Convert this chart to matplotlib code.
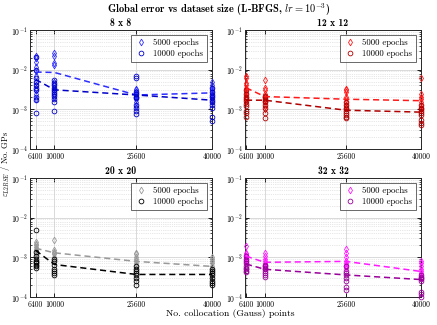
import numpy as np
import matplotlib
matplotlib.use("Agg")
import matplotlib.pyplot as plt
from matplotlib.lines import Line2D
from matplotlib.ticker import LogLocator, NullFormatter

plt.rcParams['font.family'] = ['cmr10']
plt.rcParams['mathtext.fontset'] = 'cm'
plt.rcParams['axes.formatter.use_mathtext'] = True

# collocation points
n_points = [6400, 10000, 25600, 40000]

# per-panel data: list of scattered errors at each n_points value
titles = ['8 x 8', '12 x 12', '20 x 20', '32 x 32']

err5000 = [
    [  # 8 x 8
        [2.2e-2, 2.0e-2, 1.6e-2, 1.2e-2, 9e-3, 7e-3, 5e-3, 4e-3, 3e-3, 2.5e-3, 1.8e-3],
        [2.7e-2, 2.2e-2, 1.5e-2, 1.3e-2, 5e-3, 4e-3, 3.5e-3, 3e-3, 2.5e-3, 2e-3],
        [3.2e-3, 3e-3, 2.7e-3, 2.5e-3, 2.3e-3, 2.2e-3, 2e-3, 1.8e-3, 1.5e-3, 1.2e-3],
        [5e-3, 4.2e-3, 3.5e-3, 3e-3, 2.7e-3, 2.4e-3, 2.2e-3, 2e-3, 1.8e-3, 1.5e-3],
    ],
    [  # 12 x 12
        [7e-3, 6e-3, 4.5e-3, 4e-3, 3.5e-3, 3e-3, 2.7e-3, 2.4e-3, 2e-3, 1.8e-3, 1.5e-3],
        [5.5e-3, 3.5e-3, 3e-3, 2.5e-3, 2e-3, 1.8e-3, 1.6e-3, 1.2e-3, 1e-3],
        [3.3e-3, 3e-3, 2.8e-3, 2e-3, 1.8e-3, 1.5e-3, 1.3e-3, 1.2e-3],
        [6e-3, 2.5e-3, 2e-3, 1.8e-3, 1.5e-3, 1.3e-3, 1.1e-3, 1e-3],
    ],
    [  # 20 x 20
        [2.5e-3, 2.2e-3, 2e-3, 1.8e-3, 1.6e-3, 1.5e-3, 1.3e-3, 1.2e-3, 1e-3],
        [2.8e-3, 1.5e-3, 1.4e-3, 1.3e-3, 1.2e-3, 1e-3, 8e-4],
        [1.3e-3, 1.2e-3, 1e-3, 9e-4, 8e-4, 7e-4, 6e-4, 5e-4],
        [1e-3, 9e-4, 8e-4, 7e-4, 6e-4, 5e-4, 4.5e-4],
    ],
    [  # 32 x 32
        [1.9e-3, 1.3e-3, 1.2e-3, 1.1e-3, 1e-3, 9e-4, 8e-4, 7e-4],
        [1.3e-3, 1.1e-3, 9e-4, 8e-4, 7e-4, 6.5e-4, 6e-4, 5.5e-4],
        [1.6e-3, 1.3e-3, 1e-3, 8e-4, 7e-4, 6.5e-4, 6e-4, 5.5e-4],
        [8e-4, 7e-4, 6e-4, 5e-4, 4.5e-4, 4e-4, 3.5e-4, 3e-4],
    ],
]

err10000 = [
    [  # 8 x 8
        [2.1e-2, 1.0e-2, 6e-3, 5e-3, 4e-3, 3.5e-3, 3e-3, 2e-3, 1.7e-3, 0.8e-3],
        [5.5e-3, 4.5e-3, 4e-3, 3.5e-3, 3e-3, 2.8e-3, 2.5e-3, 2.2e-3, 1.8e-3, 1.5e-3, 0.9e-3],
        [6.8e-3, 6.2e-3, 2.8e-3, 2.4e-3, 2.1e-3, 1.9e-3, 1.3e-3, 1.1e-3, 0.9e-3, 0.75e-3],
        [3.5e-3, 2.8e-3, 2.3e-3, 2e-3, 1.7e-3, 1.5e-3, 1.3e-3, 1.1e-3, 0.65e-3, 0.5e-3],
    ],
    [  # 12 x 12
        [3e-3, 2.5e-3, 2e-3, 1.8e-3, 1.6e-3, 1.4e-3, 1.2e-3, 0.9e-3, 0.8e-3, 0.65e-3],
        [2.2e-3, 2e-3, 1.8e-3, 1.6e-3, 1.5e-3, 1.3e-3, 1.1e-3, 0.8e-3, 0.6e-3],
        [1.5e-3, 1.3e-3, 1.1e-3, 1e-3, 0.9e-3, 0.8e-3, 0.7e-3, 0.65e-3, 0.6e-3],
        [1.3e-3, 1.1e-3, 1e-3, 0.9e-3, 0.8e-3, 0.7e-3, 0.55e-3, 0.45e-3, 0.4e-3],
    ],
    [  # 20 x 20
        [5e-3, 1.4e-3, 1.1e-3, 9e-4, 8e-4, 7.5e-4, 7e-4, 6.5e-4, 6e-4, 5.5e-4],
        [9e-4, 8e-4, 6.5e-4, 5e-4, 4.5e-4, 4e-4, 3.5e-4],
        [6e-4, 5e-4, 4.5e-4, 4e-4, 3.5e-4, 3e-4, 2.5e-4, 2e-4],
        [5e-4, 4.5e-4, 4e-4, 3.5e-4, 3e-4, 2.5e-4, 2.2e-4, 2e-4],
    ],
    [  # 32 x 32
        [1.1e-3, 9e-4, 8e-4, 7e-4, 6e-4, 5.5e-4, 5e-4, 4.5e-4, 4.2e-4],
        [6.5e-4, 6e-4, 5.5e-4, 5e-4, 4.5e-4, 4e-4, 3.5e-4, 3.2e-4],
        [6e-4, 4.5e-4, 4e-4, 3.5e-4, 3e-4, 2.5e-4, 1.8e-4, 1.5e-4],
        [3.5e-4, 3.2e-4, 3e-4, 2.8e-4, 2.5e-4, 1.3e-4, 1.2e-4, 1e-4],
    ],
]

# average curves (dashed)
avg5000 = [
    [8.7e-3, 8.5e-3, 2.3e-3, 2.6e-3],
    [3.5e-3, 2.1e-3, 1.8e-3, 1.65e-3],
    [1.7e-3, 1.3e-3, 7.9e-4, 5.9e-4],
    [1.07e-3, 7.5e-4, 7.9e-4, 4.4e-4],
]
avg10000 = [
    [5.7e-3, 3.1e-3, 2.3e-3, 1.7e-3],
    [1.7e-3, 1.7e-3, 9.5e-4, 8.5e-4],
    [1.5e-3, 6.6e-4, 3.7e-4, 3.7e-4],
    [6.8e-4, 5e-4, 3.6e-4, 2.75e-4],
]

col5000 = ['#2e2eff', '#ff1a1a', '#999999', '#ff1aff']
col10000 = ['#0000c8', '#b00000', '#000000', '#9a009a']

fig = plt.figure(figsize=(4.37, 3.25), dpi=100)
W, H = 437.0, 325.0
boxes = [(30, 30, 212, 149), (245, 30, 421, 149),
         (30, 178, 212, 297), (245, 178, 421, 297)]
xleft = [5350, 6213, 5350, 6213]
ms = 3.4

for i in range(4):
    x0, y0, x1, y1 = boxes[i]
    ax = fig.add_axes([x0 / W, 1 - y1 / H, (x1 - x0) / W, (y1 - y0) / H])
    ax.set_yscale('log')
    ax.set_ylim(1e-4, 1e-1)
    ax.set_xlim(xleft[i], 40000)

    for j, xv in enumerate(n_points):
        v = err5000[i][j]
        ax.plot([xv] * len(v), v, linestyle='none', marker='d', ms=ms,
                mfc='none', mec=col5000[i], mew=0.6, clip_on=False, zorder=3)
        v = err10000[i][j]
        ax.plot([xv] * len(v), v, linestyle='none', marker='o', ms=ms,
                mfc='none', mec=col10000[i], mew=0.6, clip_on=False, zorder=3)
    ax.plot(n_points, avg5000[i], '--', color=col5000[i], lw=1.1,
            dashes=(4, 2.5), zorder=4)
    ax.plot(n_points, avg10000[i], '--', color=col10000[i], lw=1.1,
            dashes=(4, 2.5), zorder=4)

    ax.set_xticks(n_points)
    ax.set_xticklabels([str(n) for n in n_points])
    ax.yaxis.set_major_locator(LogLocator(base=10, numticks=10))
    ax.yaxis.set_minor_locator(LogLocator(base=10, subs=np.arange(2, 10), numticks=20))
    ax.yaxis.set_minor_formatter(NullFormatter())
    ax.tick_params(which='both', direction='in', top=True, right=True)
    ax.tick_params(axis='x', labelsize=5.6, pad=2.6)
    ax.tick_params(axis='y', labelsize=5.6, pad=1.5)
    ax.tick_params(which='major', length=3, width=0.6)
    ax.tick_params(which='minor', length=1.5, width=0.5)
    ax.grid(True, which='major', color='#d9d9d9', lw=0.7)
    ax.grid(True, which='minor', axis='y', color='#d0d0d0', lw=0.5, ls=':')
    ax.set_axisbelow(True)
    for s in ax.spines.values():
        s.set_linewidth(0.7)
        s.set_color('#262626')
    ax.set_title(titles[i], fontsize=7, fontfamily='cmb10', pad=3)

    handles = [
        Line2D([], [], linestyle='none', marker='d', ms=ms, mfc='none',
               mec=col5000[i], mew=0.6),
        Line2D([], [], linestyle='none', marker='o', ms=ms, mfc='none',
               mec=col10000[i], mew=0.6),
    ]
    leg = ax.legend(handles, ['5000 epochs', '10000 epochs'], loc='upper right',
                    fontsize=6.3, frameon=True, fancybox=False,
                    borderpad=0.4, handlelength=1.6, handletextpad=0.6,
                    labelspacing=0.3, borderaxespad=0.6)
    leg.get_frame().set_edgecolor('#262626')
    leg.get_frame().set_linewidth(0.6)

fig.text(0.5, 1 - 10 / H, r'Global error vs dataset size (L-BFGS, $lr = 10^{-3}$)',
         ha='center', va='center', fontsize=7.5, fontfamily='cmb10')
fig.text(230 / W, 1 - 314 / H, 'No. collocation (Gauss) points', ha='center',
         va='center', fontsize=7)
fig.text(6 / W, 1 - 164 / H, r'$\varepsilon_{L2RSE}$ / No. GPs', ha='center',
         va='center', rotation=90, fontsize=6)

fig.savefig('out.png', dpi=100)
